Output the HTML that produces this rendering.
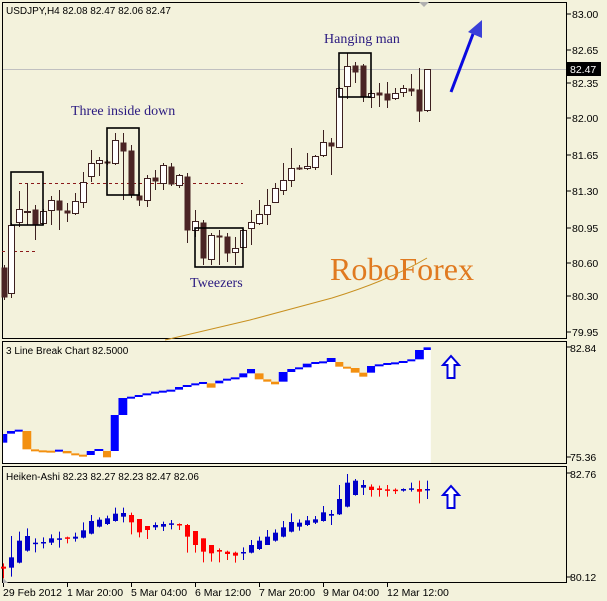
<!DOCTYPE html><html><head><meta charset="utf-8"><style>
body{margin:0;background:#f3f2dc;width:607px;height:601px;overflow:hidden}
svg{display:block}
text{font-family:"Liberation Sans",sans-serif;font-size:10.5px;fill:#000}
</style></head><body>
<svg id="s" width="607" height="601" xmlns="http://www.w3.org/2000/svg"></svg>
<script>
var S=document.getElementById('s'),h='';
function r(x,y,w,hh,f,st){h+='<rect x="'+x+'" y="'+y+'" width="'+w+'" height="'+hh+'" fill="'+f+'"'+(st?' stroke="'+st+'"':'')+'/>';}
function l(x1,y1,x2,y2,c,w,d){h+='<line x1="'+x1+'" y1="'+y1+'" x2="'+x2+'" y2="'+y2+'" stroke="'+c+'" stroke-width="'+(w||1)+'"'+(d?' stroke-dasharray="'+d+'"':'')+'/>';}
function t(x,y,s,st){h+='<text x="'+x+'" y="'+y+'"'+(st?' style="'+st+'"':'')+'>'+s+'</text>';}
r(2.5,2.5,564,336,'#f3f2dc','#000');r(2.5,341.5,564,122,'#f3f2dc','#000');r(2.5,466.5,564,116,'#f3f2dc','#000');
l(3,69.5,566,69.5,'#c0c0c0');
h+='<polygon points="419,2 429,2 424,7" fill="#b0b0b0"/>';
h+='<path d="M165,340 L250,320 L332,298 Q390,280 427,258" fill="none" stroke="#c89020" stroke-width="1"/>';
l(19,183.5,243,183.5,'#8b1a1a',1,'3,3');l(2,251.5,35,251.5,'#8b1a1a',1,'3,3');
var C=[[4,1,267,297,265,300],[11,0,225,293,223,298],[19,0,209,222,191,227],[27,0,211,212,183,225],[35,1,209,224,205,240],[43,0,211,223,209,225],[51,0,200,210,196,225],[59,1,200,210,190,230],[67,1,210,213,203,222],[75,0,201,213,193,215],[83,0,182,202,172,208],[91,0,163,176,150,182],[99,0,160,163,157,176],[107,1,161,163,160,165],[115,0,140,163,133,165],[123,1,142,151,133,200],[131,1,150,195,145,198],[139,1,195,200,192,206],[147,0,178,200,175,207],[155,1,177,181,170,190],[163,0,165,183,163,190],[171,1,166,184,163,186],[179,0,175,185,174,188],[187,1,176,230,173,243],[195,0,221,230,210,237],[203,1,222,258,220,265],[211,0,235,259,233,265],[219,1,235,237,230,265],[227,1,236,253,233,262],[235,0,248,252,237,265],[243,0,230,247,229,248],[251,0,222,228,210,245],[259,0,214,223,200,225],[267,0,205,214,189,225],[275,0,188,202,183,200],[283,0,180,190,163,195],[291,0,168,180,148,187],[299,1,167,169,165,170],[307,0,166,168,153,170],[315,0,156,167,155,170],[323,0,142,155,130,157],[331,1,142,146,138,175],[339,0,88,147,87,148],[347,0,66,86,53,99],[355,1,65,72,62,83],[363,1,65,97,64,102],[371,0,93,97,90,108],[379,1,92,95,83,107],[387,1,93,100,82,108],[395,0,93,98,88,100],[403,0,88,92,85,97],[411,1,88,91,74,96],[419,1,89,111,68,122],[427,0,69,110,69,112]];
C.forEach(function(c){l(c[0]+.5,c[4],c[0]+.5,c[5],'#3c2020');var hh=Math.max(c[3]-c[2],1);r(c[0]-2.5,c[2]+.5,6,hh,c[1]?'#4a2424':'#fff',c[1]&&hh>1?null:'#3c2020');});
[[11,172,32,53],[107,128,32,67],[195,228,48,39],[339,53,32,44]].forEach(function(b){h+='<rect x="'+b[0]+'" y="'+b[1]+'" width="'+b[2]+'" height="'+b[3]+'" fill="none" stroke="#000" stroke-width="1.6"/>';});
var ser='font-family:\'Liberation Serif\',serif;font-size:14px;fill:#2a1a80';
t(71,115,'Three inside down',ser);t(190,287,'Tweezers',ser);t(324,43,'Hanging man',ser);
t(330,280,'RoboForex',"font-family:'Liberation Serif',serif;font-size:32px;fill:#e07a20");
l(451,92,473,34,'#0a0ae0',3);h+='<polygon points="468,32 482,20 482,38" fill="#3a40d8"/>';
t(6,14,'USDJPY,H4  82.08 82.47 82.06 82.47','font-size:10px');
[['83.00',14],['82.65',50],['82.35',83],['82.00',118],['81.65',155],['81.30',191],['80.95',228],['80.60',263],['80.30',296],['79.95',332]].forEach(function(p){l(567,p[1],571,p[1],'#000');t(572,p[1]+4,p[0]);});
r(567,62,34,14,'#000');t(570,73,'82.47','fill:#fff');
var B=[[8,18,312,338,1],[18,38,303,311,1],[38,58,299,302,1],[58,80,303,358,0],[80,100,358,361,0],[100,120,361,364,0],[120,142,362,365,0],[142,162,359,362,1],[162,184,363,370,0],[184,204,370,375,0],[204,224,374,377,0],[224,244,363,375,1],[244,266,357,363,1],[266,286,363,382,0],[286,306,255,363,1],[306,328,204,255,1],[328,348,200,204,1],[348,368,195,200,1],[368,390,190,195,1],[390,410,185,190,1],[410,430,182,185,1],[430,452,179,182,1],[452,472,171,179,1],[472,494,165,171,1],[494,514,160,165,1],[514,534,156,160,1],[534,556,160,173,0],[556,576,152,160,1],[576,596,146,152,1],[596,618,142,146,1],[618,638,130,142,1],[638,658,117,130,1],[658,680,130,148,0],[680,700,148,155,0],[700,720,155,163,0],[720,742,126,155,1],[742,762,117,126,1],[762,782,112,117,1],[782,804,101,112,1],[804,824,96,101,1],[824,844,94,96,1],[844,866,84,96,1],[866,886,96,110,0],[886,906,110,114,0],[906,928,114,128,0],[928,948,128,140,0],[948,968,108,128,1],[968,990,103,108,1],[990,1010,99,103,1],[1010,1030,97,99,1],[1030,1052,93,98,1],[1052,1072,88,93,1],[1072,1094,60,88,1],[1094,1112,52,60,1]];
var k=2.583;
B.forEach(function(b){var x=b[0]/k,w=(b[1]-b[0])/k,yt=330+b[2]/3;r(x,yt,w+.3,463-yt,'#fff');});
B.forEach(function(b){var x=b[0]/k,w=(b[1]-b[0])/k,yt=330+b[2]/3,yb=330+b[3]/3;if(yb-yt<2)yb=yt+2;r(x,yt,w+.3,yb-yt,b[4]?'#0000ff':'#f39010');});
t(6,354,'3 Line Break Chart 82.5000','font-size:10px');
t(570,352,'82.84');t(570,461,'75.36');t(570,478,'82.76');t(570,581,'80.12');
l(567,347,571,347,'#000');l(567,457,571,457,'#000');l(567,473,571,473,'#000');l(567,577,571,577,'#000');
function up(y){h+='<polygon points="451,'+y+' 459,'+(y+9)+' 454.5,'+(y+9)+' 454.5,'+(y+22)+' 447.5,'+(y+22)+' 447.5,'+(y+9)+' 443,'+(y+9)+'" fill="#fff" stroke="#0000e0" stroke-width="2"/>';}
up(356);up(486);
var H=[[0,710,716,700,745],[1,682,713,618,740],[1,632,698,605,700],[1,618,662,595,665],[1,638,640,625,667],[1,636,638,622,655],[1,625,638,613,645],[1,625,628,605,653],[0,622,624,620,640],[1,620,626,608,635],[1,601,623,577,625],[1,573,611,555,613],[1,569,590,562,592],[1,565,582,557,585],[1,551,573,533,575],[1,549,560,533,577],[0,555,577,548,613],[0,567,607,567,622],[0,588,600,588,627],[1,585,592,577,600],[1,582,590,575,603],[1,580,584,570,598],[0,582,584,580,600],[0,585,620,582,668],[0,603,645,603,668],[0,625,665,625,697],[0,645,670,645,695],[0,660,665,655,697],[0,665,672,662,690],[0,668,677,665,698],[1,666,670,652,690],[1,645,668,630,670],[1,632,657,620,660],[1,620,645,600,645],[1,608,632,598,635],[1,592,620,573,622],[1,576,605,550,607],[1,578,590,568,602],[1,571,585,558,588],[1,568,578,558,582],[1,547,573,528,575],[1,552,557,540,585],[1,507,553,465,555],[1,458,530,432,532],[1,452,495,447,497],[1,465,473,450,495],[0,470,480,463,500],[0,475,480,467,500],[0,478,482,465,500],[0,479,482,475,492],[1,477,482,475,485],[1,475,478,458,485],[0,477,485,452,520],[1,477,479,452,507]];
H.forEach(function(c,i){var x=3+8*i+.5,col=c[0]?'#0000c8':'#ff0000';l(x,330+c[3]/3,x,330+c[4]/3,col);var yt=330+c[1]/3,yb=330+c[2]/3;if(yb-yt<1.5)yb=yt+1.5;r(x-2.5,yt,5,yb-yt,col);});
h+='<polygon points="3,583 3,578 8,583" fill="#b0b0b0"/>';
t(6,480,'Heiken-Ashi 82.23 82.27 82.23 82.47 82.06','font-size:10px');
[['29 Feb 2012',3],['1 Mar 20:00',67],['5 Mar 04:00',131],['6 Mar 12:00',195],['7 Mar 20:00',259],['9 Mar 04:00',323],['12 Mar 12:00',387]].forEach(function(p){l(p[1]+.5,583,p[1]+.5,587,'#000');t(p[1],596,p[0]);});
S.innerHTML=h;
</script></body></html>
